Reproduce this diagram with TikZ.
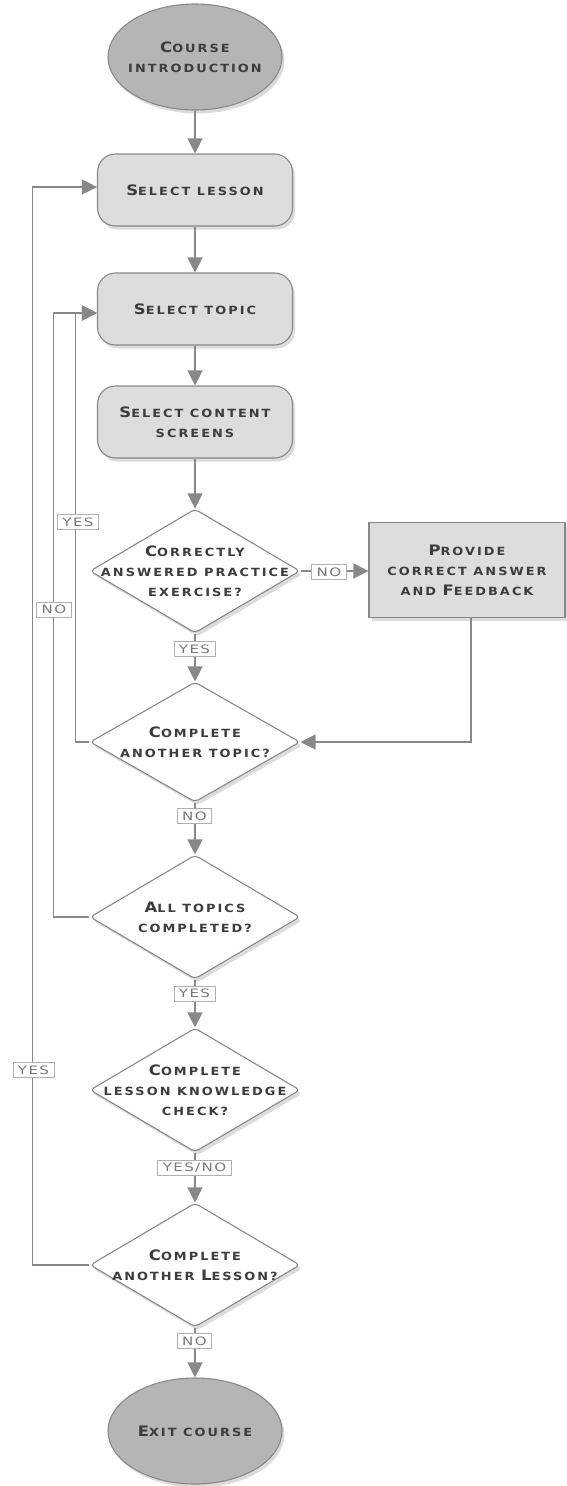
\documentclass[tikz,border=0pt]{standalone}
\usepackage{fontspec}
\usetikzlibrary{shapes.geometric,arrows.meta,shadows}
\newfontfamily\flowfont[FakeStretch=1.14,LetterSpace=18]{DejaVu Sans Bold}
\newfontfamily\tagfont[FakeStretch=1.3,LetterSpace=12]{DejaVu Sans}
\definecolor{edge}{HTML}{888888}
\definecolor{ink}{HTML}{3C3C3C}
\definecolor{termfill}{HTML}{B5B5B5}
\definecolor{boxfill}{HTML}{DDDDDD}
\definecolor{tagline}{HTML}{B0B0B0}
\definecolor{tagink}{HTML}{7A7A7A}
% first letter of a small-caps word
\newcommand\capl[1]{{\fontsize{14.4}{20}\selectfont #1}}
\tikzset{
  shade/.style={drop shadow={opacity=0.28,shadow xshift=2.5pt,shadow yshift=-3.5pt}},
  txt/.style={font=\flowfont\fontsize{11.3}{20}\selectfont, text=ink, align=center},
  terminal/.style={ellipse, draw=edge, line width=1.1pt, fill=termfill,
    minimum width=174, minimum height=106, inner sep=0pt, shade},
  stepbox/.style={rectangle, rounded corners=18pt, draw=edge, line width=1.1pt, fill=boxfill,
    minimum width=195, minimum height=72, inner sep=0pt, shade, txt},
  actbox/.style={rectangle, draw=edge, line width=1.1pt, fill=boxfill,
    minimum width=196, minimum height=95, inner sep=0pt, shade, txt},
  decision/.style={diamond, rounded corners=4pt, draw=edge, line width=1.1pt, fill=white,
    minimum width=210, minimum height=124, inner sep=0pt, shade},
  dtext/.style={txt, inner sep=0pt},
  flow/.style={draw=edge, line width=1.2pt, -{Triangle[width=15pt,length=15pt]}},
  tag/.style={rectangle, draw=tagline, line width=0.8pt, fill=white, text=tagink,
    font=\tagfont\fontsize{11.6}{12}\selectfont, minimum height=15, inner xsep=5pt, inner ysep=0pt}
}
\begin{document}
\begin{tikzpicture}[x=1pt,y=-1pt]
\useasboundingbox (0,0) rectangle (567,1486);

% main column
\node[terminal, label={[dtext]center:{\capl{C}OURSE\\INTRODUCTION}}] (intro) at (195,57) {};
\node[stepbox] (lesson) at (195,190) {\capl{S}ELECT LESSON};
\node[stepbox] (topic) at (195,309) {\capl{S}ELECT TOPIC};
\node[stepbox] (content) at (195,422) {\capl{S}ELECT CONTENT\\SCREENS};
\node[decision, label={[dtext]center:{\capl{C}ORRECTLY\\ANSWERED PRACTICE\\EXERCISE?}}] (d1) at (195,571) {};
\node[actbox] (provide) at (467,570) {\capl{P}ROVIDE\\CORRECT ANSWER\\AND \capl{F}EEDBACK};
\node[decision, minimum height=120, label={[dtext]center:{\capl{C}OMPLETE\\ANOTHER TOPIC?}}] (d2) at (195,742) {};
\node[decision, label={[dtext]center:{\capl{A}LL TOPICS\\COMPLETED?}}] (d3) at (195,917) {};
\node[decision, label={[dtext]center:{\capl{C}OMPLETE\\LESSON KNOWLEDGE\\CHECK?}}] (d4) at (195,1090) {};
\node[decision, label={[dtext]center:{\capl{C}OMPLETE\\ANOTHER \capl{L}ESSON?}}] (d5) at (195,1265) {};
\node[terminal, label={[dtext]center:{\capl{E}XIT COURSE}}] (exit) at (195,1431) {};

% straight connectors
\draw[flow] (intro) -- (lesson);
\draw[flow] (lesson) -- (topic);
\draw[flow] (topic) -- (content);
\draw[flow] (content) -- (d1);
\draw[flow] (d1) -- (d2);
\draw[flow] (d2) -- (d3);
\draw[flow] (d3) -- (d4);
\draw[flow] (d4) -- (d5);
\draw[flow] (d5) -- (exit);

% feedback branch
\draw[flow] (d1.east) -- (d1.east -| provide.west);
\draw[flow] ([xshift=4pt]provide.south) |- (d2.east);

% loops back up the left side
\draw[flow] (d2.west) -- ++(-14,0) |- ([yshift=-4pt]topic.west);
\draw[flow] (d3.west) -- ++(-36,0) |- ([yshift=-4pt]topic.west);
\draw[flow] (d5.west) -- ++(-57,0) |- ([yshift=3pt]lesson.west);

% branch labels
\node[tag] (t1) at (194.5,649) {YES};
\node[tag] (t2) at (329,572) {NO};
\node[tag] (t3) at (194.5,816) {NO};
\node[tag] (t4) at (194.5,993.5) {YES};
\node[tag] (t5) at (194.5,1167.5) {YES/NO};
\node[tag] (t6) at (194.5,1341) {NO};
\node[tag] (t7) at (78,522) {YES};
\node[tag] (t8) at (54,609.5) {NO};
\node[tag] (t9) at (33.5,1070) {YES};
\end{tikzpicture}
\end{document}
